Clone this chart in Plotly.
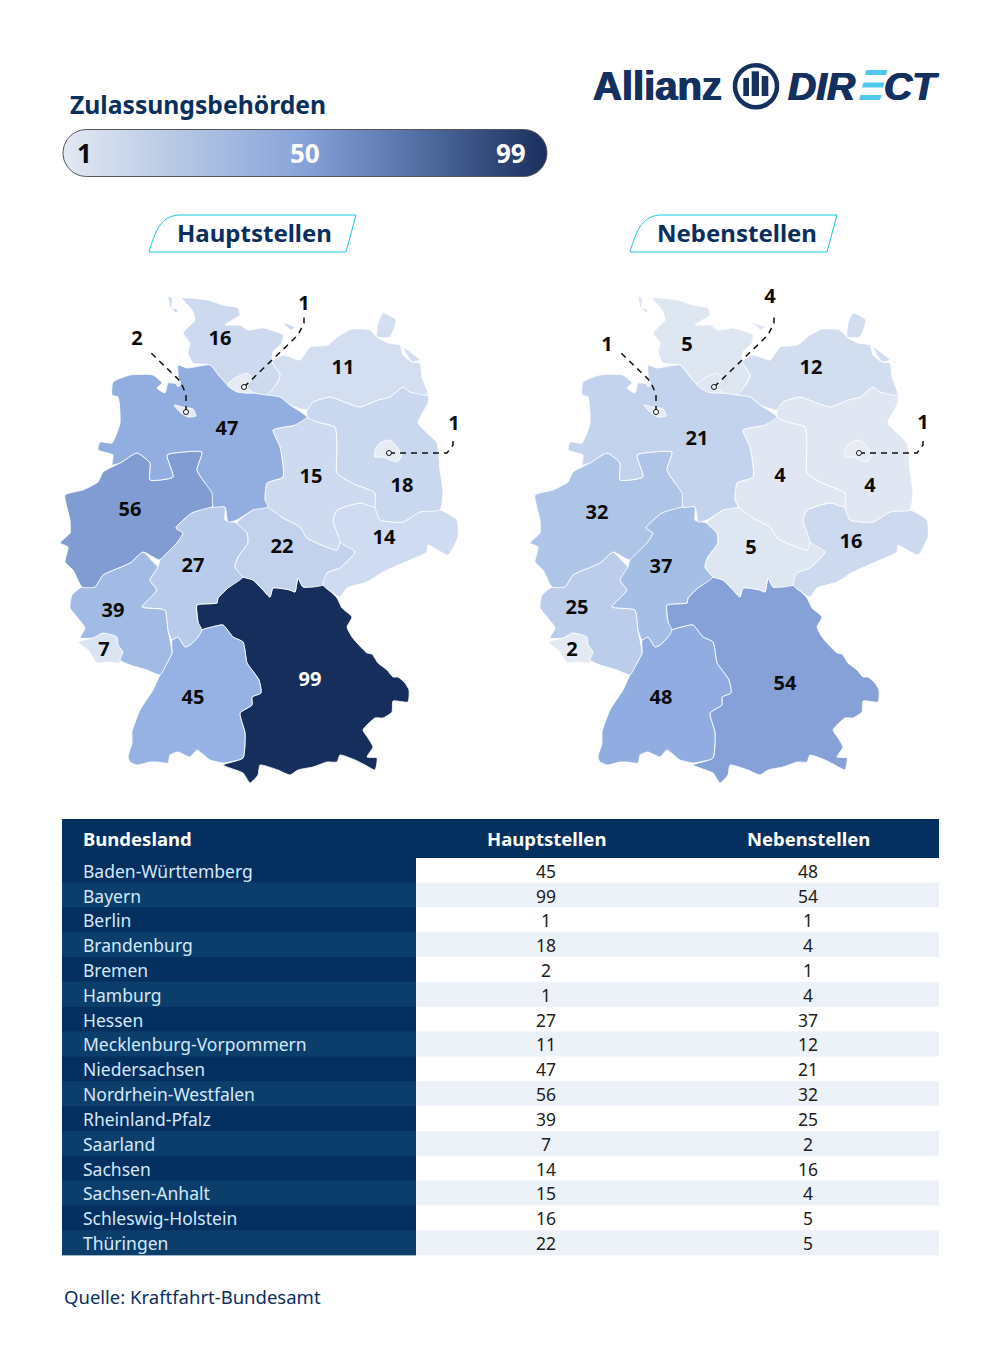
import numpy as np
import plotly.colors as pc
import plotly.graph_objects as go

STATES = ["Baden-Württemberg", "Bayern", "Berlin", "Brandenburg", "Bremen", "Hamburg", "Hessen",
          "Mecklenburg-Vorpommern", "Niedersachsen", "Nordrhein-Westfalen", "Rheinland-Pfalz",
          "Saarland", "Sachsen", "Sachsen-Anhalt", "Schleswig-Holstein", "Thüringen"]
HAUPTSTELLEN = [45, 99, 1, 18, 2, 1, 27, 11, 47, 56, 39, 7, 14, 15, 16, 22]
NEBENSTELLEN = [48, 54, 1, 4, 1, 4, 37, 12, 21, 32, 25, 2, 16, 4, 5, 5]

# outlines, in picture pixels; None starts another island
BW = [(172,640),(178,637),(185,647),(190,645),(198,637),(202,630),(212,627),(223,625),(233,637),(243,642),
      (247,663),(252,670),(259,680),(261,693),(252,697),(252,705),(240,713),(245,733),(243,758),(230,762),
      (223,763),(210,760),(197,750),(190,757),(178,752),(170,755),(168,763),(157,762),(150,762),(137,765),
      (130,762),(128,757),(132,743),(132,732),(140,710),(153,690),(160,675),(167,663),(172,653)]
BY = [(243,577),(253,580),(263,590),(270,597),(273,588),(290,590),(295,592),(298,578),(303,587),(323,585),
      (337,598),(342,608),(352,617),(347,627),(352,637),(357,643),(367,653),(372,654),(378,663),(387,670),
      (393,677),(398,677),(405,683),(409,690),(408,702),(393,701),(392,712),(383,718),(375,718),(363,730),
      (368,738),(373,747),(367,757),(377,758),(375,770),(365,765),(355,760),(340,755),(337,762),(327,762),
      (313,767),(298,770),(290,775),(278,770),(260,765),(258,775),(250,783),(243,773),(223,765),(243,758),
      (245,733),(240,713),(252,705),(252,697),(261,693),(259,680),(252,670),(247,663),(243,642),(233,637),
      (223,625),(212,627),(202,630),(198,637),(198,622),(197,605),(217,603),(218,598),(228,588)]
BE = [(375,450),(380,443),(390,440),(397,447),(402,455),(397,462),(383,457),(375,457)]
BB = [(307,410),(307,417),(317,422),(335,427),(337,447),(337,473),(352,483),(375,493),(375,507),(380,520),
      (403,522),(420,512),(440,510),(443,493),(440,470),(437,443),(418,423),(428,403),(428,393),(410,392),
      (403,387),(390,397),(378,400),(360,407),(347,403),(330,397),(313,402)]
HB = [(174,405),(183,407),(193,409),(196,416),(188,417),(181,413),None,(177,381),(180,381),(180,386),(177,386)]
HH = [(227,385),(235,378),(247,373),(252,378),(247,387),(253,393),(237,392)]
HE = [(192,513),(213,507),(225,507),(225,520),(237,523),(247,533),(248,543),(238,557),(235,567),(243,577),
      (228,588),(218,598),(217,603),(197,605),(198,622),(202,630),(198,637),(190,645),(185,647),(178,637),
      (172,640),(168,630),(165,610),(142,607),(153,595),(157,590),(150,580),(158,567),(160,560),(177,543),
      (183,533),(176,528)]
MV = [(272,362),(283,355),(300,360),(310,347),(328,345),(337,337),(352,329),(370,330),(378,338),(388,343),
      (400,345),(403,355),(412,362),(420,363),(422,377),(428,395),(410,392),(403,387),(390,397),(378,400),
      (360,407),(347,403),(330,397),(313,402),(307,410),(290,405),(280,397),(267,395),(277,383),(280,375),None,
      (378,323),(383,313),(396,320),(390,337),(377,337),None,(403,347),(420,360),(412,362)]
NI = [(178,365),(187,368),(210,365),(220,377),(230,387),(253,393),(267,395),(280,397),(290,405),(307,417),
      (295,425),(273,430),(280,447),(283,477),(267,483),(265,500),(268,507),(253,510),(237,520),(228,522),
      (225,507),(213,507),(212,493),(205,483),(197,470),(202,452),(183,452),(167,455),(173,477),(150,480),
      (150,463),(137,453),(120,463),(112,465),(113,455),(98,450),(100,442),(112,443),(120,423),(118,397),
      (112,395),(113,382),(130,375),(153,375),(162,383),(157,388),(165,393),(168,383),(178,383)]
NW = [(65,495),(83,490),(98,482),(103,472),(120,463),(137,453),(150,463),(150,480),(173,477),(167,455),
      (183,452),(202,452),(197,470),(205,483),(215,493),(212,507),(192,513),(176,528),(183,533),(177,543),
      (160,560),(143,552),(130,563),(103,575),(95,587),(82,587),(73,570),(65,562),(68,547),(60,543),(70,533),(70,520)]
RP = [(143,552),(153,562),(158,567),(150,580),(157,590),(153,595),(142,607),(165,610),(168,630),(172,653),
      (167,663),(160,675),(147,670),(130,665),(120,660),(123,652),(118,645),(117,637),(103,633),(93,638),
      (80,638),(85,628),(77,617),(70,608),(72,595),(82,587),(95,587),(103,575),(130,563)]
SL = [(78,642),(93,638),(103,633),(117,637),(118,645),(123,652),(120,663),(107,662),(97,663),(88,650)]
SN = [(337,510),(360,503),(375,507),(380,520),(403,522),(420,512),(440,510),(457,520),(458,537),(448,555),
      (428,545),(427,552),(403,563),(383,572),(367,582),(347,588),(340,597),(323,585),(327,573),(340,568),
      (355,552),(340,542),(333,520)]
ST = [(307,417),(295,425),(273,430),(280,447),(283,477),(267,483),(265,500),(268,507),(283,518),(300,527),
      (307,538),(337,550),(340,542),(333,520),(337,510),(360,503),(375,507),(375,493),(352,483),(337,473),
      (337,447),(335,427),(317,422)]
SH = [(182,298),(207,300),(223,305),(238,308),(240,315),(225,325),(240,325),(248,330),(263,328),(283,335),
      (282,343),(273,352),(272,362),(280,375),(277,383),(267,395),(253,393),(230,387),(220,377),(210,365),
      (193,363),(188,353),(190,343),(183,333),(195,320),(192,310),None,(283,323),(295,327),(291,330),None,
      (168,296),(172,298),(171,310),None,(172,308),(178,310),(176,313)]
TH = [(237,523),(253,510),(268,507),(283,518),(300,527),(307,538),(337,550),(340,542),(355,552),(340,568),
      (327,573),(323,585),(303,587),(298,578),(295,592),(290,590),(273,588),(270,597),(263,590),(253,580),
      (243,577),(235,567),(238,557),(248,543),(247,533)]
OUTLINES = [BW, BY, BE, BB, HB, HH, HE, MV, NI, NW, RP, SL, SN, ST, SH, TH]
DRAW_ORDER = [1, 0, 11, 10, 9, 6, 15, 12, 13, 3, 7, 14, 8, 4, 5, 2]

# big number labels, same order as STATES
LABEL_X_LEFT = [193, 310, None, 402, None, None, 193, 343, 227, 130, 113, 104, 384, 311, 220, 282]
LABEL_Y_LEFT = [699, 681, None, 487, None, None, 567, 369, 430, 511, 612, 651, 539, 478, 340, 548]
LABEL_X_RIGHT = [661, 785, None, 870, None, None, 661, 811, 697, 597, 577, 572, 851, 780, 687, 751]
LABEL_Y_RIGHT = [699, 685, None, 487, None, None, 568, 369, 440, 514, 609, 651, 543, 477, 346, 549]

# callouts for the three city states
CALLOUT_BREMEN = [(186,412),(186,395),(183,387),(178,379),(150,352)]
CALLOUT_HAMBURG = [(244,387),(298,335),(304,323),(304,317)]
CALLOUT_BERLIN = [(389,453),(447,453),(453,445),(453,437)]
CALLOUT_ROWS = [4, 5, 2]
CALLOUT_TEXT_LEFT = [(137,340), (304,305), (454,425)]
CALLOUT_TEXT_RIGHT = [(607,346), (770,298), (923,424)]

MAP_SCALE = [[0, "#e8ecf4"], [0.1, "#d5e0f1"], [0.2, "#c6d5ee"], [0.27, "#b8cbea"], [0.37, "#a6bfe6"],
             [0.47, "#93afe2"], [0.55, "#84a0d6"], [0.75, "#4f6a9e"], [1, "#152e5c"]]
NAVY = "#0a2f5e"
LOGO = "#14305f"
FONT = "Noto Sans"
NUM_FONT = "Open Sans"

fig = go.Figure()


def ring_coords(pts, k):
    # close every island on its own so the fill does not jump between them
    out, start = [], None
    for p in pts:
        if p is None:
            out += [start[k], None]
            start = None
            continue
        start = start or p
        out.append(p[k])
    return out + [start[k]]


def add_map(values, xaxis, dx, label_x, label_y, callout_text):
    for i in DRAW_ORDER:
        pts = OUTLINES[i]
        color = pc.sample_colorscale(MAP_SCALE, values[i] / 99)[0]
        fig.add_trace(go.Scatter(
            x=ring_coords(pts, 0), y=ring_coords(pts, 1),
            xaxis=xaxis, yaxis="y", mode="lines", fill="toself", fillcolor=color,
            line=dict(color="rgba(255,255,255,0.85)", width=1, shape="spline", smoothing=0.5),
            hoverinfo="skip"))
    for line in (CALLOUT_BREMEN, CALLOUT_HAMBURG, CALLOUT_BERLIN):
        fig.add_trace(go.Scatter(
            x=[p[0] for p in line], y=[p[1] for p in line], xaxis=xaxis, yaxis="y", mode="lines",
            line=dict(color="#111", width=1.5, dash="6px,5px"), hoverinfo="skip"))
        fig.add_trace(go.Scatter(
            x=[line[0][0]], y=[line[0][1]], xaxis=xaxis, yaxis="y", mode="markers",
            marker=dict(symbol="circle", size=5, color="white", line=dict(color="#111", width=1)),
            hoverinfo="skip"))
    # labels are read in picture pixels, so shift them back into this map's axis
    xs = [x - dx for x in label_x if x is not None]
    ys = [y for y in label_y if y is not None]
    vals = [v for v, x in zip(values, label_x) if x is not None]
    fig.add_trace(go.Scatter(
        x=xs, y=ys, text=[str(v) for v in vals], xaxis=xaxis, yaxis="y", mode="text",
        textposition="middle center", hoverinfo="skip",
        textfont=dict(family=NUM_FONT, size=20, weight=700,
                      color=["white" if v == 99 else "#0b0b0b" for v in vals])))
    fig.add_trace(go.Scatter(
        x=[p[0] - dx for p in callout_text], y=[p[1] for p in callout_text],
        text=[str(values[r]) for r in CALLOUT_ROWS], xaxis=xaxis, yaxis="y", mode="text",
        textposition="middle center", hoverinfo="skip",
        textfont=dict(family=NUM_FONT, size=20, weight=700, color="#0b0b0b")))


add_map(HAUPTSTELLEN, "x", 0, LABEL_X_LEFT, LABEL_Y_LEFT, CALLOUT_TEXT_LEFT)
add_map(NEBENSTELLEN, "x2", 470, LABEL_X_RIGHT, LABEL_Y_RIGHT, CALLOUT_TEXT_RIGHT)

# legend pill
r = 23.5
a = np.linspace(-np.pi / 2, np.pi / 2, 30)
pill_x = np.r_[547 - r + r * np.cos(a), 63 + r - r * np.cos(a)]
pill_y = np.r_[153 + r * np.sin(a), 153 + r * np.sin(a[::-1])]
fig.add_trace(go.Scatter(
    x=np.r_[pill_x, pill_x[0]], y=np.r_[pill_y, pill_y[0]], mode="lines", fill="toself",
    fillgradient=dict(type="horizontal", start=63, stop=547,
                      colorscale=[[0, "#e3e8f2"], [0.25, "#b4c6e4"], [0.5, "#86a2d8"],
                                  [0.75, "#4f6a9e"], [1, "#1a2f5e"]]),
    line=dict(color="#555", width=1), hoverinfo="skip"))

# table: one category per row on its own axis
row_band = ["#03305f" if i % 2 == 0 else "#0c3e6c" for i in range(len(STATES))]
cell_band = ["#ffffff" if i % 2 == 0 else "#edf1f8" for i in range(len(STATES))]
for base, width, colors in ((62, 354, row_band), (416, 523, cell_band)):
    fig.add_trace(go.Bar(
        y=STATES, x=[width] * len(STATES), base=base, orientation="h", width=1.03,
        marker=dict(color=colors, line=dict(width=0)), xaxis="x3", yaxis="y3", hoverinfo="skip"))
# text sits on a twin axis a little lower, scatter text rides high in its row
fig.add_trace(go.Scatter(
    x=[83] * len(STATES), y=STATES, text=STATES, mode="text", textposition="middle right",
    textfont=dict(family=FONT, size=17.5, color="#d4e8fb"), xaxis="x3", yaxis="y4", hoverinfo="skip"))
for cx, column in ((546, HAUPTSTELLEN), (808, NEBENSTELLEN)):
    fig.add_trace(go.Scatter(
        x=[cx] * len(STATES), y=STATES, text=[str(v) for v in column], mode="text",
        textposition="middle center", textfont=dict(family=FONT, size=17.5, color="#1d1d1d"),
        xaxis="x3", yaxis="y4", hoverinfo="skip"))


def label(x, y, text, size, color=NAVY, bold=True, anchor="center", family=FONT, italic=False, shadow=None):
    if bold:
        text = f"<b>{text}</b>"
    if italic:
        text = f"<i>{text}</i>"
    font = dict(family=family, size=size, color=color)
    if shadow:
        font["shadow"] = shadow
    fig.add_annotation(x=x, y=y, xref="x", yref="y", text=text, showarrow=False, xanchor=anchor,
                       yanchor="middle", font=font)


THICK = f"0.7px 0 0 {LOGO},-0.7px 0 0 {LOGO}"
label(68, 104, "Zulassungsbehörden", 24.7, anchor="left")
label(84, 153, "1", 26, color="#0b0b0b", family=NUM_FONT)
label(305, 153, "50", 26, color="white", family=NUM_FONT)
label(511, 153, "99", 26, color="white", family=NUM_FONT)
label(254, 232, "Hauptstellen", 24)
label(737, 232, "Nebenstellen", 24)
label(81, 838, "Bundesland", 18.5, color="white", anchor="left")
label(546, 838, "Hauptstellen", 18.5, color="white")
label(808, 838, "Nebenstellen", 18.5, color="white")
label(62, 1296, "Quelle: Kraftfahrt-Bundesamt", 18.5, bold=False, anchor="left")
label(591, 86, "Allianz", 40, color=LOGO, anchor="left", family="Liberation Sans", shadow=THICK)
label(786, 86, "DIR", 39, color=LOGO, anchor="left", family="Liberation Sans", italic=True, shadow=THICK)
label(882, 86, "CT", 39, color=LOGO, anchor="left", family="Liberation Sans", italic=True, shadow=THICK)

shapes = [dict(type="rect", x0=62, x1=939, y0=819, y1=858, fillcolor="#03305f", line_width=0)]
for dx in (0, 481):
    shapes.append(dict(
        type="path",
        path=f"M{149+dx},252 C{155+dx},232 {160+dx},217 {178+dx},215 L{356+dx},215 L{346+dx},252 Z",
        line=dict(color="#19c4dc", width=1), fillcolor="rgba(0,0,0,0)"))
# logo roundel and the E of DIRECT
shapes.append(dict(type="circle", x0=735, x1=777, y0=65.3, y1=107.3,
                   line=dict(color=LOGO, width=4.5)))
for x0, x1, y0 in ((743.3, 749, 78), (751.7, 759, 71.3), (761.7, 768.3, 76)):
    shapes.append(dict(type="rect", x0=x0, x1=x1, y0=y0, y1=96, fillcolor=LOGO, line_width=0))
for x0, y0, w in ((865, 70, 21), (862, 82.5, 21), (859, 95, 21)):
    shapes.append(dict(type="path", fillcolor="#4fc8ec", line_width=0,
                       path=f"M{x0},{y0+5} L{x0+1.5},{y0} L{x0+w+1.5},{y0} L{x0+w},{y0+5} Z"))
for s in shapes:
    s.update(xref="x", yref="y", layer="above")

hidden = dict(visible=False, fixedrange=True)
row_axis = dict(type="category", categoryorder="array", categoryarray=STATES, range=[15.5, -0.5], anchor="x3")
fig.update_layout(
    width=1000, height=1370, margin=dict(l=0, r=0, t=0, b=0), showlegend=False,
    paper_bgcolor="white", plot_bgcolor="rgba(0,0,0,0)", barmode="overlay", shapes=shapes,
    xaxis=dict(range=[0, 1000], domain=[0, 1], **hidden),
    xaxis2=dict(range=[-470, 530], domain=[0, 1], overlaying="x", **hidden),
    xaxis3=dict(range=[0, 1000], domain=[0, 1], anchor="y3", overlaying="x", **hidden),
    yaxis=dict(range=[1370, 0], domain=[0, 1], **hidden),
    yaxis3=dict(domain=[1 - 1255.5 / 1370, 1 - 858 / 1370], **row_axis, **hidden),
    yaxis4=dict(domain=[1 - 1258 / 1370, 1 - 861 / 1370], **row_axis, **hidden))

fig.write_html("out.html", config=dict(displayModeBar=False),
               post_script="document.body.style.margin='0'")
